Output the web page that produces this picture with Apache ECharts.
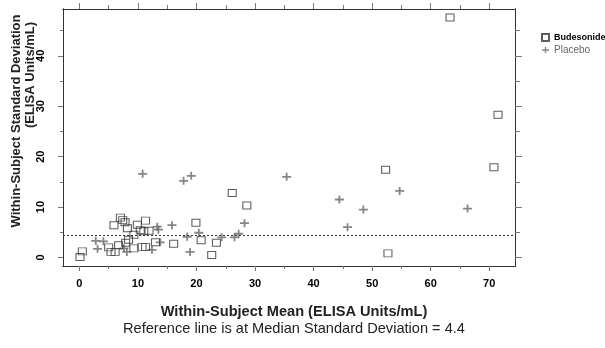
<!DOCTYPE html>
<html>
<head>
<meta charset="utf-8">
<script src="https://cdn.jsdelivr.net/npm/echarts@6/dist/echarts.min.js"></script>
<style>
  html, body { margin: 0; padding: 0; background: #fff; }
  #sd-plot { width: 605px; height: 348px; }
</style>
</head>
<body>
<div id="sd-plot"></div>
<script>
// within-subject mean / SD
const budesonideX = [0.1, 0.5, 5.0, 5.4, 6.1, 6.7, 5.9, 7.0, 7.4, 7.8, 8.2, 8.4, 7.9, 9.3, 9.3, 9.9, 10.4, 11.0, 11.9, 11.3, 10.7, 11.3, 13.0, 16.1, 19.9, 20.8, 22.6, 23.4, 26.1, 28.6, 52.3, 52.7, 63.3, 70.8, 71.5];
const budesonideY = [0.1, 1.2, 2.0, 1.1, 1.1, 2.4, 6.4, 7.9, 7.4, 7.0, 5.8, 3.5, 2.9, 4.5, 1.8, 6.5, 5.4, 5.2, 5.3, 7.3, 2.1, 2.1, 3.0, 2.7, 6.9, 3.4, 0.5, 2.9, 12.8, 10.3, 17.4, 0.8, 47.6, 17.9, 28.3];
const placeboX = [2.8, 4.1, 3.1, 7.6, 8.1, 10.8, 12.4, 13.3, 13.5, 13.8, 15.8, 17.8, 19.1, 18.4, 18.9, 20.4, 24.3, 26.5, 27.2, 28.2, 35.4, 44.4, 45.8, 48.5, 54.7, 66.3];
const placeboY = [3.3, 3.2, 1.7, 1.8, 1.1, 16.6, 1.5, 6.1, 5.5, 3.0, 6.4, 15.2, 16.2, 4.1, 1.1, 4.9, 4.0, 4.0, 4.7, 6.8, 16.0, 11.5, 6.0, 9.5, 13.2, 9.7];

const xTicks = [0, 10, 20, 30, 40, 50, 60, 70];
const xMinorTicks = [5, 15, 25, 35, 45, 55, 65];
const yTicks = [0, 10, 20, 30, 40];
const yMinorTicks = [5, 15, 25, 35, 45];
const medianSD = 4.4;

const xMin = -2.8, xMax = 74.4;
const yMin = -1.7, yMax = 49.3;

const fontFamily = "Liberation Sans, Arial, sans-serif";
const chart = echarts.init(document.getElementById("sd-plot"));

// one axis per tick length, all sharing the same range
function makeAxis(position, min, max, ticks, len, labels) {
  return {
    type: "value",
    position: position,
    min: min,
    max: max,
    offset: 0,
    splitLine: { show: false },
    axisLine: { show: true, onZero: false, lineStyle: { color: "#333", width: 1 } },
    axisTick: {
      show: true,
      length: len,
      customValues: ticks,
      lineStyle: { color: "#777", width: 1 }
    },
    axisLabel: labels ? Object.assign({ customValues: ticks }, labels) : { show: false }
  };
}

const labelFont = { color: "#000", fontSize: 11, fontWeight: "bold", fontFamily: fontFamily };

function titleText(text, x, y, font, rotate) {
  return {
    type: "text",
    x: x,
    y: y,
    rotation: rotate ? Math.PI / 2 : 0,
    style: { text: text, font: font, fill: "#222", align: "center", verticalAlign: "middle" }
  };
}

let option = {
  animation: false,
  textStyle: { fontFamily: fontFamily },
  grid: { left: 63, right: 90, top: 9, bottom: 82 },
  legend: {
    orient: "vertical",
    left: 536,
    top: 28,
    itemWidth: 7,
    itemHeight: 7,
    itemGap: 3,
    data: [
      { name: "Budesonide", textStyle: { color: "#000", fontWeight: "bold", fontSize: 9 } },
      { name: "Placebo", textStyle: { color: "#666", fontSize: 10 } }
    ]
  },
  xAxis: [
    makeAxis("bottom", xMin, xMax, xTicks, 5, Object.assign({ margin: 12 }, labelFont)),
    makeAxis("bottom", xMin, xMax, xMinorTicks, 3, null),
    makeAxis("top", xMin, xMax, xTicks, 6, null),
    makeAxis("top", xMin, xMax, xMinorTicks, 4, null)
  ],
  yAxis: [
    makeAxis("left", yMin, yMax, yTicks, 5, Object.assign({ margin: 17, rotate: 90 }, labelFont)),
    makeAxis("left", yMin, yMax, yMinorTicks, 3, null),
    makeAxis("right", yMin, yMax, yTicks, 7, null),
    makeAxis("right", yMin, yMax, yMinorTicks, 5, null)
  ],
  series: [
    {
      name: "Budesonide",
      type: "scatter",
      symbol: "rect",
      symbolSize: [8, 7],
      data: budesonideX.map((x, i) => [x, budesonideY[i]]),
      itemStyle: { color: "rgba(255,255,255,0)", borderColor: "#333", borderWidth: 1 },
      markLine: {
        silent: true,
        symbol: "none",
        label: { show: false },
        lineStyle: { color: "#333", type: [2, 2], width: 1 },
        data: [{ yAxis: medianSD }]
      },
      z: 3
    },
    {
      name: "Placebo",
      type: "scatter",
      symbol: "path://M3.6,0h1.8v3.1h3.6v1.8h-3.6v3.1h-1.8v-3.1h-3.6v-1.8h3.6z",
      symbolSize: [9, 8],
      data: placeboX.map((x, i) => [x, placeboY[i]]),
      itemStyle: { color: "#666" },
      z: 2
    }
  ],
  graphic: [
    titleText("Within-Subject Standard Deviation", 16, 121, "bold 13px " + fontFamily, true),
    titleText("(ELISA Units/mL)", 30, 75, "bold 13px " + fontFamily, true),
    titleText("Within-Subject Mean (ELISA Units/mL)", 294, 312, "bold 14.6px " + fontFamily, false),
    titleText("Reference line is at Median Standard Deviation = 4.4", 294, 329, "14.6px " + fontFamily, false)
  ]
};

chart.setOption(option);
</script>
</body>
</html>
